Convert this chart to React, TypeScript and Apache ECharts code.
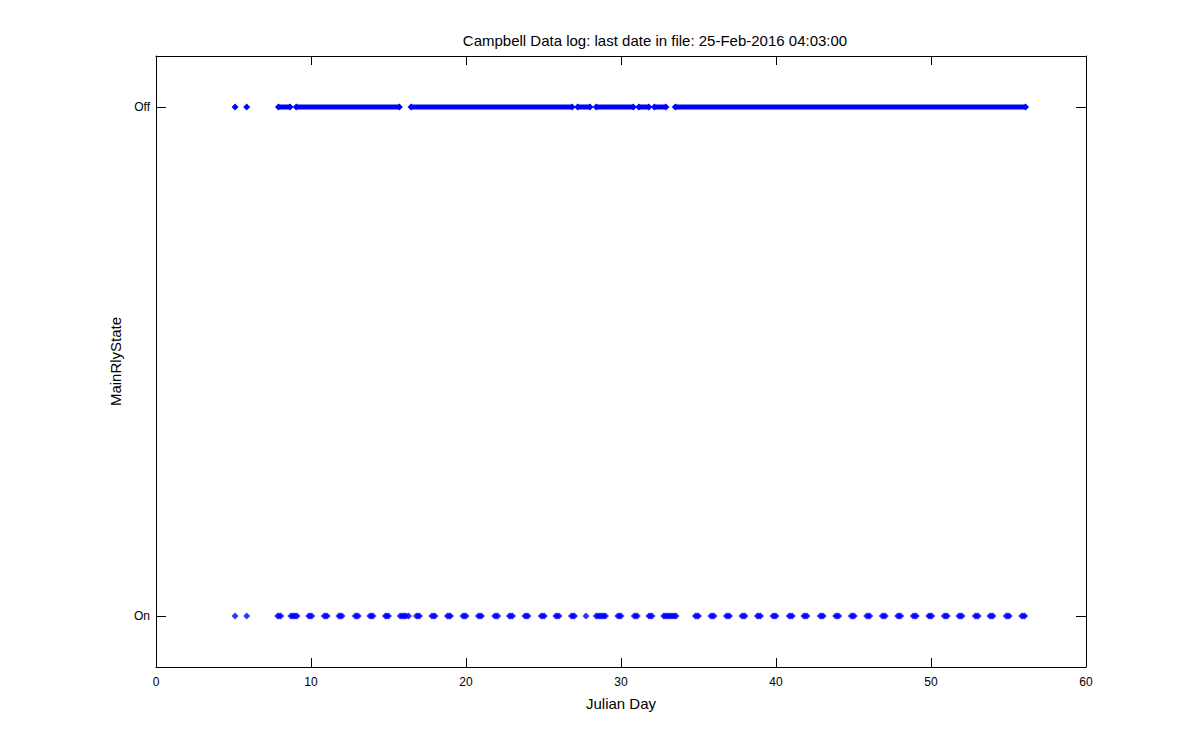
import React, { useEffect, useRef } from "react";
import * as echarts from "echarts";

const chartTitle = "Campbell Data log: last date in file: 25-Feb-2016 04:03:00";
const xName = "Julian Day";
const yName = "MainRlyState";
const stateLabels = ["On", "Off"]; // value 0 = On, value 1 = Off

// Runs of consecutive "Off" samples [first day, last day] (the logged samples overlap into a bar)
const offRuns: [number, number][] = [
  [5.1, 5.1],
  [5.85, 5.85],
  [7.9, 8.65],
  [9.05, 15.7],
  [16.45, 26.85],
  [27.2, 28.0],
  [28.4, 30.8],
  [31.15, 31.8],
  [32.15, 32.9],
  [33.5, 56.1],
];

// Logged "On" samples (Julian day)
const onTimes: number[] = [
  5.1, 5.85,
  7.85, 7.95, 8.05,
  8.7, 8.8, 8.9, 9.0, 9.1,
  9.85, 9.95, 10.05,
  10.85, 10.95, 11.05,
  11.8, 11.9, 12.0,
  12.85, 12.95, 13.05,
  13.8, 13.9, 14.0,
  14.8, 14.9, 15.0,
  15.75, 15.85, 15.95, 16.05, 16.15, 16.3,
  16.8, 16.9, 17.0,
  17.8, 17.9, 18.0,
  18.8, 18.9, 19.0,
  19.8, 19.9, 20.0,
  20.8, 20.9, 21.0,
  21.85, 21.95, 22.05,
  22.8, 22.9, 23.0,
  23.8, 23.9, 24.0,
  24.85, 24.95, 25.05,
  25.8, 25.9, 26.0,
  26.8, 26.9, 27.0,
  27.74,
  28.4, 28.5, 28.6, 28.7, 28.8, 28.9, 29.0,
  29.8, 29.9, 30.0,
  30.85, 30.95, 31.05,
  31.8, 31.9, 32.0,
  32.75, 32.85, 32.95, 33.05, 33.15, 33.25, 33.35, 33.45, 33.55,
  34.8, 34.9, 35.0,
  35.8, 35.9, 36.0,
  36.8, 36.9, 37.0,
  37.8, 37.9, 38.0,
  38.8, 38.9, 39.0,
  39.8, 39.9, 40.0,
  40.85, 40.95, 41.05,
  41.8, 41.9, 42.0,
  42.85, 42.95, 43.05,
  43.85, 43.95, 44.05,
  44.85, 44.95, 45.05,
  45.85, 45.95, 46.05,
  46.85, 46.95, 47.05,
  47.85, 47.95, 48.05,
  48.85, 48.95, 49.05,
  49.85, 49.95, 50.05,
  50.85, 50.95, 51.05,
  51.8, 51.9, 52.0,
  52.85, 52.95, 53.05,
  53.8, 53.9, 54.0,
  54.85, 54.95, 55.05,
  55.85, 55.95, 56.05,
];

const FONT = "Liberation Sans, Arial, sans-serif";
const BLUE = "#0000ff";

export default function App() {
  const ref = useRef<HTMLDivElement>(null);

  useEffect(() => {
    document.body.style.margin = "0";
    if (!ref.current) return;
    const chart = echarts.init(ref.current, undefined, { renderer: "svg" });

    const axisLine = { show: true, onZero: false, lineStyle: { color: "#000", width: 1 } };

    const lineSeries = offRuns.map(([a, b]) => ({
      type: "line",
      xAxisIndex: 0,
      yAxisIndex: 0,
      data: a === b ? [[a, 1]] : [[a, 1], [b, 1]],
      symbol: "diamond",
      symbolSize: 7,
      showSymbol: true,
      showAllSymbol: true,
      silent: true,
      lineStyle: { width: 5, color: BLUE },
      itemStyle: { color: BLUE },
    }));

    chart.setOption({
      animation: false,
      backgroundColor: "#fff",
      textStyle: { fontFamily: FONT },
      grid: { left: 156, right: 114, top: 56, bottom: 83, containLabel: false },
      graphic: [
        {
          type: "text",
          x: 655,
          y: 40,
          style: {
            text: chartTitle,
            fontFamily: FONT,
            fontSize: 15,
            fill: "#000",
            textAlign: "center",
            textVerticalAlign: "middle",
          },
        },
      ],
      xAxis: [
        {
          type: "value",
          min: 0,
          max: 60,
          interval: 10,
          position: "bottom",
          axisLine,
          splitLine: { show: false },
          axisTick: { show: true, inside: true, length: 9, lineStyle: { color: "#000" } },
          axisLabel: { color: "#000", fontSize: 12, margin: 9, fontFamily: FONT },
          name: xName,
          nameLocation: "middle",
          nameGap: 29,
          nameTextStyle: { color: "#000", fontSize: 15, fontFamily: FONT },
        },
        {
          type: "value",
          min: 0,
          max: 60,
          interval: 10,
          position: "top",
          axisLine,
          splitLine: { show: false },
          axisTick: { show: true, inside: true, length: 9, lineStyle: { color: "#000" } },
          axisLabel: { show: false },
        },
      ],
      yAxis: [
        {
          type: "value",
          min: -0.1,
          max: 1.1,
          position: "left",
          axisLine,
          splitLine: { show: false },
          axisTick: {
            show: true,
            inside: true,
            length: 10,
            customValues: [0, 1],
            lineStyle: { color: "#000" },
          },
          axisLabel: {
            color: "#000",
            fontSize: 12,
            margin: 6,
            fontFamily: FONT,
            customValues: [0, 1],
            formatter: (v: number) => stateLabels[Math.round(v)],
          },
          name: yName,
          nameLocation: "middle",
          nameGap: 33,
          nameTextStyle: { color: "#000", fontSize: 15, fontFamily: FONT },
        },
        {
          type: "value",
          min: -0.1,
          max: 1.1,
          position: "right",
          axisLine,
          splitLine: { show: false },
          axisTick: {
            show: true,
            inside: true,
            length: 10,
            customValues: [0, 1],
            lineStyle: { color: "#000" },
          },
          axisLabel: { show: false },
        },
      ],
      series: [
        ...lineSeries,
        {
          type: "scatter",
          xAxisIndex: 0,
          yAxisIndex: 0,
          data: onTimes.map((t) => [t, 0]),
          symbol: "diamond",
          symbolSize: 7,
          silent: true,
          itemStyle: { color: BLUE },
        },
      ],
    });

    return () => chart.dispose();
  }, []);

  return <div ref={ref} style={{ width: 1200, height: 750 }} />;
}
